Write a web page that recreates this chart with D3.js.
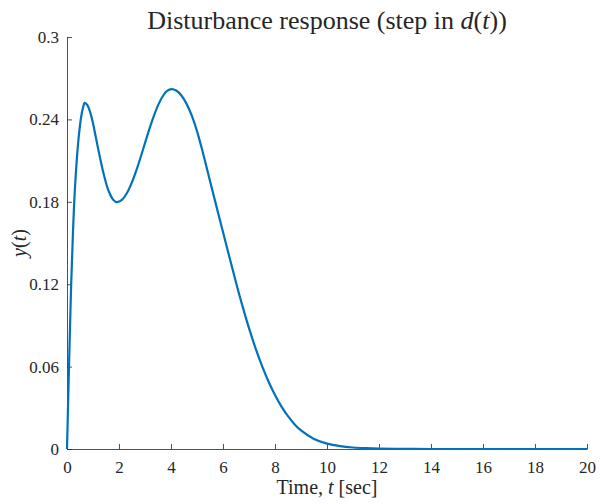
<!DOCTYPE html>
<html>
<head>
<meta charset="utf-8">
<script src="https://cdn.jsdelivr.net/npm/d3@7"></script>
<style>
  body { margin: 0; background: #fff; }
  text { font-family: "Liberation Serif", serif; fill: #262626; }
</style>
</head>
<body>
<svg id="chart" width="600" height="504"></svg>
<script>
// time samples (sec)
const tValues = [0, 0.08, 0.15, 0.23, 0.3, 0.38, 0.46, 0.55, 0.62, 0.68,
  0.78, 0.88, 0.98, 1.08, 1.18, 1.28, 1.38, 1.48, 1.58, 1.68, 1.78, 1.88, 1.92,
  2.1, 2.3, 2.5, 2.7, 2.9, 3.1, 3.3, 3.5, 3.7, 3.85, 4.02,
  4.2, 4.4, 4.6, 4.8, 5.0, 5.2, 5.5, 5.75, 6.0, 6.25, 6.5, 6.75, 7.0, 7.25, 7.5, 7.75,
  8.0, 8.25, 8.5, 8.75, 9.0, 9.5, 10, 10.5, 11, 11.5, 12, 13, 14, 16, 18, 20];
// response y(t) at those times
const yValues = [0, 0.062, 0.113, 0.158, 0.188, 0.2115, 0.229, 0.2425, 0.2488, 0.252,
  0.2505, 0.246, 0.2388, 0.2298, 0.2203, 0.2111, 0.2026, 0.1951, 0.1888, 0.1845, 0.1814, 0.1799, 0.1797,
  0.1812, 0.1862, 0.1943, 0.2047, 0.2166, 0.2289, 0.2404, 0.2502, 0.2574, 0.2608, 0.2621,
  0.261, 0.2574, 0.2513, 0.2427, 0.2315, 0.2177, 0.1952, 0.1765, 0.158, 0.1395, 0.1213, 0.104, 0.088, 0.0735, 0.0606, 0.0492,
  0.0393, 0.0309, 0.0239, 0.0181, 0.0135, 0.0073, 0.0039, 0.0021, 0.0011, 0.0006, 0.0003, 0.0001, 0, 0, 0, 0];

const xTicks = [0, 2, 4, 6, 8, 10, 12, 14, 16, 18, 20];
const yTicks = [0, 0.06, 0.12, 0.18, 0.24, 0.3];
const yTickLabels = ['0', '0.06', '0.12', '0.18', '0.24', '0.3'];

const margin = { top: 37, right: 13, bottom: 55, left: 67 };
const width = 600 - margin.left - margin.right;
const height = 504 - margin.top - margin.bottom;

const svg = d3.select('#chart');
const g = svg.append('g').attr('transform', `translate(${margin.left},${margin.top})`);

const x = d3.scaleLinear().domain([0, 20]).range([0, width]);
const y = d3.scaleLinear().domain([0, 0.3]).range([height, 0]);

// axes with inward ticks, MATLAB style
const xAxis = g.append('g')
  .attr('transform', `translate(0,${height})`)
  .call(d3.axisBottom(x).tickValues(xTicks).tickSizeInner(-5).tickSizeOuter(0).tickPadding(12)
    .tickFormat(d3.format('d')));

const yAxis = g.append('g')
  .call(d3.axisLeft(y).tickValues(yTicks).tickSizeInner(-5).tickSizeOuter(0).tickPadding(8)
    .tickFormat((d, i) => yTickLabels[i]));

[xAxis, yAxis].forEach(ax => {
  ax.selectAll('.domain').attr('stroke', '#262626').attr('stroke-width', 0.8);
  ax.selectAll('.tick line').attr('stroke', '#262626').attr('stroke-width', 0.8);
  ax.selectAll('.tick text').attr('font-size', 17).attr('fill', '#262626')
    .attr('font-family', '"Liberation Serif", serif');
});

// the response curve
const data = tValues.map((t, i) => ({ t, v: yValues[i] }));
const line = d3.line()
  .x(d => x(d.t))
  .y(d => y(d.v))
  .curve(d3.curveCatmullRom.alpha(0.5));

g.append('path')
  .datum(data)
  .attr('fill', 'none')
  .attr('stroke', '#0072BD')
  .attr('stroke-width', 2.2)
  .attr('d', line);

// title
const title = svg.append('text')
  .attr('x', margin.left + width / 2)
  .attr('y', 29)
  .attr('text-anchor', 'middle')
  .attr('font-size', 26)
  .attr('fill', '#000');
title.append('tspan').text('Disturbance response (step in ');
title.append('tspan').attr('font-style', 'italic').text('d');
title.append('tspan').text('(');
title.append('tspan').attr('font-style', 'italic').text('t');
title.append('tspan').text('))');

// x label
const xl = svg.append('text')
  .attr('x', margin.left + width / 2)
  .attr('y', 494)
  .attr('text-anchor', 'middle')
  .attr('font-size', 20);
xl.append('tspan').text('Time, ');
xl.append('tspan').attr('font-style', 'italic').text('t');
xl.append('tspan').text(' [sec]');

// y label
const yl = svg.append('text')
  .attr('transform', `translate(26,${margin.top + height / 2}) rotate(-90)`)
  .attr('text-anchor', 'middle')
  .attr('font-size', 20);
yl.append('tspan').attr('font-style', 'italic').text('y');
yl.append('tspan').text('(');
yl.append('tspan').attr('font-style', 'italic').text('t');
yl.append('tspan').text(')');
</script>
</body>
</html>
